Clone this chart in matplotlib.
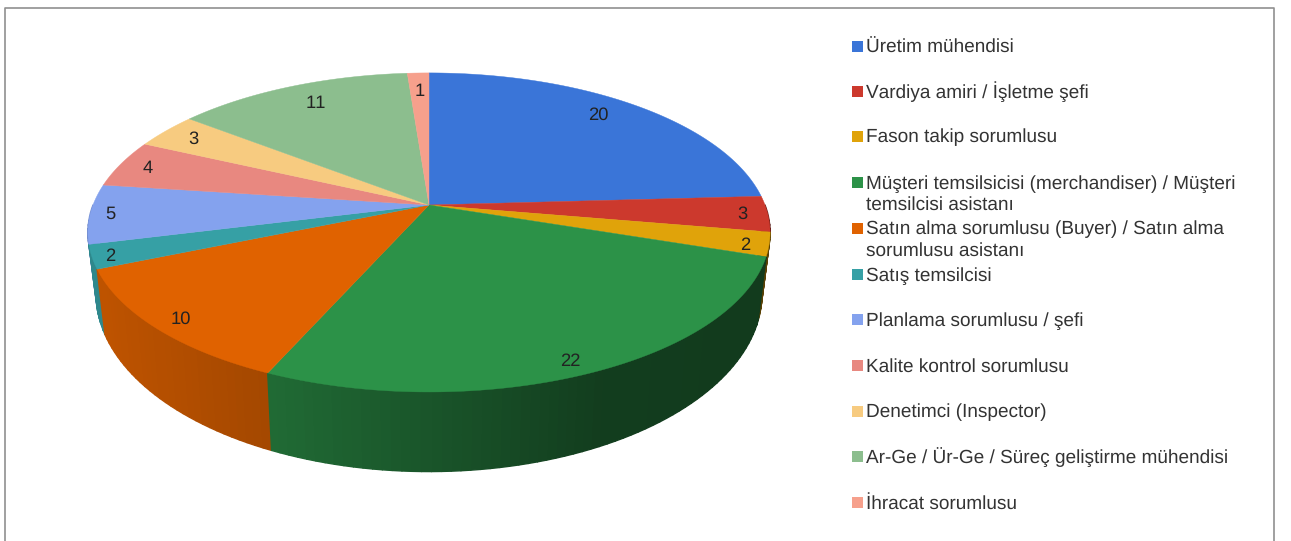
import numpy as np
import matplotlib
matplotlib.use("Agg")
import matplotlib.pyplot as plt
from matplotlib.patches import Polygon, Rectangle
from matplotlib.collections import PolyCollection

plt.rcParams["font.family"] = ["Liberation Sans", "DejaVu Sans"]
plt.rcParams["text.kerning_factor"] = 6
plt.rcParams["text.hinting"] = "no_hinting"

# ==========================================================
# DATA
# ==========================================================

labels = [
    "Üretim mühendisi",
    "Vardiya amiri / İşletme şefi",
    "Fason takip sorumlusu",
    "Müşteri temsilsicisi (merchandiser) / Müşteri\ntemsilcisi asistanı",
    "Satın alma sorumlusu (Buyer) / Satın alma\nsorumlusu asistanı",
    "Satış temsilcisi",
    "Planlama sorumlusu / şefi",
    "Kalite kontrol sorumlusu",
    "Denetimci (Inspector)",
    "Ar-Ge / Ür-Ge / Süreç geliştirme mühendisi",
    "İhracat sorumlusu",
]
values = [20, 3, 2, 22, 10, 2, 5, 4, 3, 11, 1]

# ==========================================================
# STYLE
# ==========================================================

colors = ["#3a75d8", "#cc392d", "#e0a30a", "#2c9248", "#e06200", "#36a0a5",
          "#84a2ee", "#e88880", "#f7cb80", "#8cbe8e", "#f6a08c"]
label_r = [0.855, 0.925, 0.935, 0.93, 0.925, 0.95, 0.94, 0.907, 0.886, 0.834, 0.844]
label_da = [-2.4, 0, 1, 1.2, -0.5, -0.6, 0, -0.4, 0, 1.2, 0]  # degrees off the slice middle
legend_y = [46, 91, 136, 182, 228, 274, 319, 365, 411, 456, 502]
LINE_GAP = 21

CX = 429
K = 0.172
TOP = (205, 336, 154.8)     # centre y, x scale, y scale of the top face
BOTTOM = (263, 328, 172.7)  # same for the bottom rim


def project(theta, r=1.0, plane=TOP):
    # clockwise from 12 o'clock, perspective squeeze towards the back
    y0, bx, by = plane
    u = r * np.sin(theta)
    v = r * np.cos(theta)
    d = 1 + K * v
    return CX + bx * u / d, y0 - by * v / d


def wall_shade(x):
    return np.interp(x, [100, 270, 600, 770], [0.85, 0.73, 0.42, 0.40])


fig = plt.figure(figsize=(12.91, 5.41), dpi=100)
ax = fig.add_axes([0, 0, 1, 1])
ax.set_xlim(0, 1291)
ax.set_ylim(541, 0)
ax.axis("off")

# frame
ax.plot([4.5, 4.5, 1273.5, 1273.5], [541, 8, 8, 541], color="#909090", lw=1.2)

edges = np.cumsum([0] + values) / sum(values) * 2 * np.pi

# side wall, back to front
strips = []
for i in range(len(values)):
    a0, a1 = max(edges[i], np.pi / 2), min(edges[i + 1], 1.5 * np.pi)
    if a1 <= a0:
        continue
    steps = np.linspace(a0, a1, int((a1 - a0) * 40) + 2)
    base = np.array(matplotlib.colors.to_rgb(colors[i]))
    for t0, t1 in zip(steps[:-1], steps[1:]):
        x0, y0 = project(t0)
        x1, y1 = project(t1)
        x2, y2 = project(t1, plane=BOTTOM)
        x3, y3 = project(t0, plane=BOTTOM)
        shade = wall_shade((x0 + x1) / 2)
        strips.append((np.cos((t0 + t1) / 2),
                       [(x0, y0), (x1, y1), (x2, y2), (x3, y3)],
                       base * shade))
strips.sort(key=lambda s: -s[0])
ax.add_collection(PolyCollection([s[1] for s in strips],
                                 facecolors=[s[2] for s in strips],
                                 edgecolors=[s[2] for s in strips],
                                 linewidths=1.0))

# top face
for i in range(len(values)):
    t = np.linspace(edges[i], edges[i + 1], 200)
    px, py = project(t)
    pts = [project(0.0, 0.0)] + list(zip(px, py))
    ax.add_patch(Polygon(pts, closed=True, facecolor=colors[i],
                         edgecolor=colors[i], lw=0.3))

# data labels
for i, val in enumerate(values):
    mid = (edges[i] + edges[i + 1]) / 2 + np.radians(label_da[i])
    lx, ly = project(mid, label_r[i])
    ax.text(lx, ly + 0.5, str(val), ha="center", va="center", fontsize=13.2, color="#222222")

# legend, each line on its own baseline
for i, name in enumerate(labels):
    ax.add_patch(Rectangle((852, legend_y[i] - 5), 10.5, 10.5, facecolor=colors[i], edgecolor="none"))
    for j, line in enumerate(name.split("\n")):
        ax.text(866, legend_y[i] + 6.5 + j * LINE_GAP, line, ha="left", va="baseline",
                fontsize=13.7, color="#333333")

fig.savefig("out.png", dpi=100)
plt.close(fig)
